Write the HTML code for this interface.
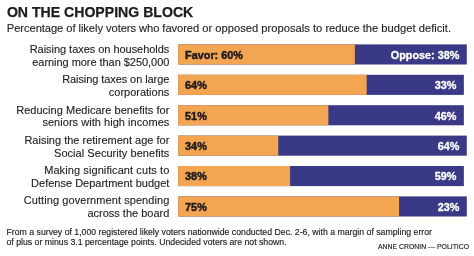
<!DOCTYPE html>
<html><head><meta charset="utf-8">
<style>
html,body{margin:0;padding:0;background:#fff;}
body{width:474px;height:256px;position:relative;overflow:hidden;font-family:"Liberation Sans",sans-serif;color:#1f1b1c;}
#wrap{position:absolute;left:0;top:0;width:474px;height:256px;will-change:transform;}
.t{position:absolute;white-space:nowrap;}
svg{position:absolute;left:0;top:0;}
#title{left:6.9px;top:4.86px;font-size:14.1px;line-height:14.1px;font-weight:bold;-webkit-text-stroke:0.25px #1f1b1c;}
#sub{left:6.8px;top:23.12px;font-size:11.2px;line-height:11.2px;color:#222222;-webkit-text-stroke:0.12px #222222;}
.lab{position:absolute;right:304.7px;text-align:right;font-size:11.0px;line-height:12.6px;white-space:nowrap;color:#222222;-webkit-text-stroke:0.12px #222222;}
.bt{position:absolute;height:20.1px;line-height:20.1px;font-size:10.85px;font-weight:bold;white-space:nowrap;}
.fv{left:185.1px;color:#1f1b1c;-webkit-text-stroke:0.45px #1f1b1c;}
.op{right:14.2px;color:#fff;-webkit-text-stroke:0.3px #fff;}
#foot{left:6.5px;top:228.18px;font-size:8.72px;line-height:9.6px;color:#222222;-webkit-text-stroke:0.15px #222222;}
#cred{left:378px;top:243.66px;font-size:6.9px;line-height:6.9px;color:#222222;-webkit-text-stroke:0.15px #222222;}
</style></head><body><div id="wrap">
<svg width="474" height="256" viewBox="0 0 474 256"><rect x="178.1" y="44.40" width="288.71" height="20.1" fill="#3a3986"/><rect x="178.1" y="44.40" width="176.76" height="20.1" fill="#f4a552"/><rect x="178.1" y="74.80" width="285.76" height="20.1" fill="#3a3986"/><rect x="178.1" y="74.80" width="188.54" height="20.1" fill="#f4a552"/><rect x="178.1" y="105.20" width="285.76" height="20.1" fill="#3a3986"/><rect x="178.1" y="105.20" width="150.25" height="20.1" fill="#f4a552"/><rect x="178.1" y="135.60" width="288.71" height="20.1" fill="#3a3986"/><rect x="178.1" y="135.60" width="100.16" height="20.1" fill="#f4a552"/><rect x="178.1" y="166.00" width="285.76" height="20.1" fill="#3a3986"/><rect x="178.1" y="166.00" width="111.95" height="20.1" fill="#f4a552"/><rect x="178.1" y="196.40" width="288.71" height="20.1" fill="#3a3986"/><rect x="178.1" y="196.40" width="220.95" height="20.1" fill="#f4a552"/></svg>
<div class="t" id="title">ON THE CHOPPING BLOCK</div>
<div class="t" id="sub"><span style="letter-spacing:-0.075px">Percentage of likely voters who favored</span> or opposed proposals to reduce the budget deficit.</div>
<div class="lab" style="top:43.19px;letter-spacing:-0.04px;margin-right:0.04px">Raising taxes on households</div>
<div class="lab" style="top:55.79px;letter-spacing:-0.045px;margin-right:0.045px">earning more than $250,000</div>
<div class="bt fv" style="top:44.80px">Favor: 60%</div>
<div class="bt op" style="top:44.80px;right:14.59px">Oppose: 38%</div>
<div class="lab" style="top:73.44px;letter-spacing:-0.08px;margin-right:0.08px">Raising taxes on large</div>
<div class="lab" style="top:86.04px">corporations</div>
<div class="bt fv" style="top:75.20px">64%</div>
<div class="bt op" style="top:75.20px;right:17.54px">33%</div>
<div class="lab" style="top:103.69px;letter-spacing:0.03px;margin-right:-0.03px">Reducing Medicare benefits for</div>
<div class="lab" style="top:116.29px;letter-spacing:0.04px;margin-right:-0.04px">seniors with high incomes</div>
<div class="bt fv" style="top:105.60px">51%</div>
<div class="bt op" style="top:105.60px;right:17.54px">46%</div>
<div class="lab" style="top:133.94px">Raising the retirement age for</div>
<div class="lab" style="top:146.54px;letter-spacing:0.04px;margin-right:-0.04px">Social Security benefits</div>
<div class="bt fv" style="top:136.00px">34%</div>
<div class="bt op" style="top:136.00px;right:14.59px">64%</div>
<div class="lab" style="top:164.19px;letter-spacing:0.09px;margin-right:-0.09px">Making significant cuts to</div>
<div class="lab" style="top:176.79px">Defense Department budget</div>
<div class="bt fv" style="top:166.40px">38%</div>
<div class="bt op" style="top:166.40px;right:17.54px">59%</div>
<div class="lab" style="top:194.44px;letter-spacing:0.07px;margin-right:-0.07px">Cutting government spending</div>
<div class="lab" style="top:207.04px">across the board</div>
<div class="bt fv" style="top:196.80px">75%</div>
<div class="bt op" style="top:196.80px;right:14.59px">23%</div>
<div class="t" id="foot">From a survey of 1,000 registered likely voters nationwide conducted Dec. 2-6, with a margin of sampling error<br>of plus or minus 3.1 percentage points. Undecided voters are not shown.</div>
<div class="t" id="cred">ANNE CRONIN — POLITICO</div>
</div></body></html>
